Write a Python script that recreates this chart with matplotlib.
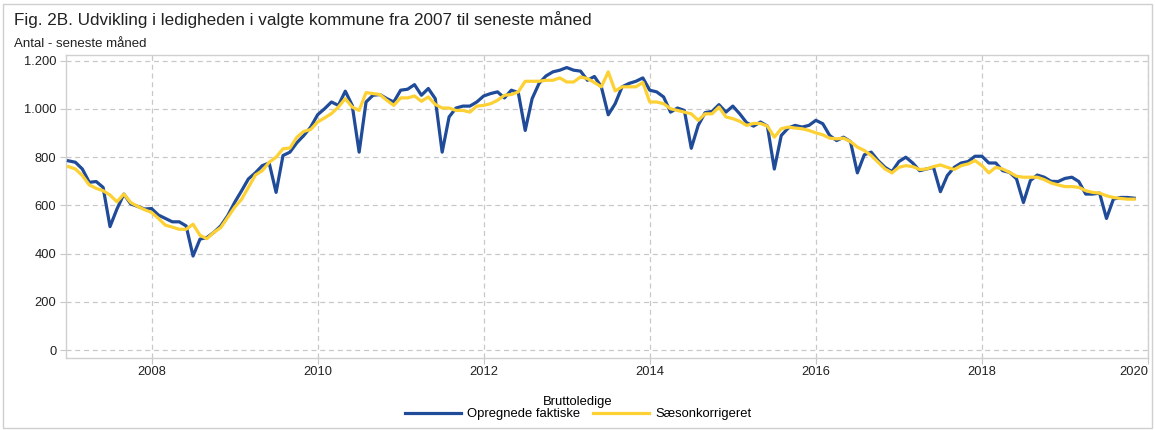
import matplotlib
matplotlib.use("Agg")
import matplotlib.pyplot as plt
from matplotlib.patches import Rectangle
import numpy as np

plt.rcParams['font.family'] = ['Liberation Sans', 'DejaVu Sans']

start_year = 2007
# Monthly values, Jan 2007 - Nov 2019
opregnede = [
    785, 779, 751, 696, 699, 675, 512, 585, 647, 606, 596, 585,      # 2007
    587, 560, 546, 532, 532, 515, 390, 460, 467, 488, 515, 557,      # 2008
    612, 660, 710, 735, 765, 776, 654, 807, 821, 860, 890, 925,      # 2009
    976, 1001, 1029, 1015, 1074, 1015, 821, 1029, 1057, 1060, 1043, 1029,  # 2010
    1078, 1082, 1101, 1057, 1085, 1043, 821, 967, 1004, 1012, 1012, 1029,  # 2011
    1054, 1064, 1071, 1046, 1078, 1068, 911, 1043, 1106, 1137, 1154, 1161, # 2012
    1172, 1161, 1157, 1119, 1135, 1092, 976, 1022, 1092, 1106, 1115, 1129, # 2013
    1078, 1071, 1050, 987, 1004, 994, 837, 932, 985, 990, 1018, 987,       # 2014
    1012, 980, 943, 929, 946, 929, 751, 890, 921, 932, 925, 932,           # 2015
    953, 939, 890, 869, 883, 865, 735, 810, 821, 786, 758, 740,            # 2016
    782, 800, 776, 744, 751, 758, 657, 724, 758, 776, 782, 804,            # 2017
    804, 776, 776, 744, 737, 710, 612, 703, 726, 717, 700, 699,            # 2018
    712, 717, 699, 647, 647, 651, 546, 626, 633, 633, 630,                 # 2019
]
saeson = [
    761, 751, 724, 685, 671, 661, 643, 615, 647, 612, 596, 582,      # 2007
    571, 546, 518, 510, 501, 501, 522, 476, 462, 488, 508, 550,      # 2008
    592, 625, 675, 726, 744, 779, 800, 835, 838, 883, 907, 915,      # 2009
    946, 963, 981, 1008, 1043, 1008, 994, 1068, 1064, 1060, 1036, 1015,    # 2010
    1046, 1046, 1054, 1032, 1050, 1019, 1004, 1004, 994, 994, 987, 1012,   # 2011
    1015, 1022, 1036, 1057, 1060, 1071, 1115, 1115, 1115, 1119, 1119, 1129,# 2012
    1112, 1112, 1133, 1126, 1110, 1092, 1154, 1075, 1092, 1092, 1092, 1110,# 2013
    1029, 1029, 1022, 1001, 994, 987, 980, 953, 980, 980, 1008, 967,       # 2014
    960, 949, 932, 940, 940, 929, 883, 918, 925, 921, 918, 911,            # 2015
    901, 893, 879, 876, 879, 865, 842, 828, 807, 779, 751, 735,            # 2016
    758, 765, 761, 749, 751, 761, 768, 758, 749, 765, 772, 786,            # 2017
    765, 735, 758, 751, 737, 721, 717, 717, 717, 707, 693, 685,            # 2018
    678, 678, 675, 661, 654, 651, 640, 633, 629, 626, 626,                 # 2019
]
year_ticks = [2008, 2010, 2012, 2014, 2016, 2018, 2020]
value_ticks = [0, 200, 400, 600, 800, 1000, 1200]
value_labels = ["0", "200", "400", "600", "800", "1.000", "1.200"]
series_names = ["Opregnede faktiske", "Sæsonkorrigeret"]
legend_title = "Bruttoledige"
title = "Fig. 2B. Udvikling i ledigheden i valgte kommune fra 2007 til seneste måned"
subtitle = "Antal - seneste måned"

W, H = 1155, 430
fig = plt.figure(figsize=(W / 100, H / 100), dpi=100)
ax = fig.add_axes([66 / W, 1 - 358 / H, (1148 - 66) / W, (358 - 55) / H])

t = start_year + np.arange(len(opregnede)) / 12.0
blue = "#1f4b99"
yellow = "#fdd133"
ax.plot(t, opregnede, color=blue, lw=2.3, label=series_names[0], zorder=3,
        solid_joinstyle="round")
ax.plot(t, saeson, color=yellow, lw=2.3, label=series_names[1], zorder=4,
        solid_joinstyle="round")

ax.set_xlim(2006.97, 2020.0)
ax.set_ylim(-33, 1224)
ax.set_xticks(year_ticks)
ax.set_xticklabels([str(y) for y in year_ticks])
ax.set_yticks(value_ticks)
ax.set_yticklabels(value_labels)
last = ax.get_xticklabels()[-1]
last.set_ha("right")

grid_c = "#c8c8c8"
ax.grid(True, color=grid_c, ls=(0, (4, 3)), lw=0.9)
ax.set_axisbelow(True)
for s in ax.spines.values():
    s.set_color("#d0d0d0")
    s.set_linewidth(1.0)
ax.tick_params(axis="both", colors="#c8c8c8", labelcolor="#222222",
               labelsize=9.3, length=4, width=0.8)
ax.tick_params(axis="y", pad=3)
ax.tick_params(axis="x", pad=2)

fig.text(14 / W, 1 - 20 / H, title, fontsize=12.3, color="#222222",
         va="center", ha="left")
fig.text(14 / W, 1 - 44 / H, subtitle, fontsize=9.5, color="#222222",
         va="center", ha="left")

leg = fig.legend(loc="center", bbox_to_anchor=(578 / W, 1 - 408 / H),
                 ncol=2, frameon=False, title=legend_title, fontsize=9.4,
                 title_fontsize=9.4, handlelength=4.3, columnspacing=1.0,
                 handletextpad=0.45, borderpad=0.0, labelspacing=0.2)
leg._legend_box.sep = 0

fig.patches.append(Rectangle((3 / W, 2 / H), (W - 6) / W, (H - 6) / H,
                             transform=fig.transFigure, fill=False,
                             edgecolor="#cfcfcf", lw=1.0))

fig.savefig("out.png", dpi=100)
